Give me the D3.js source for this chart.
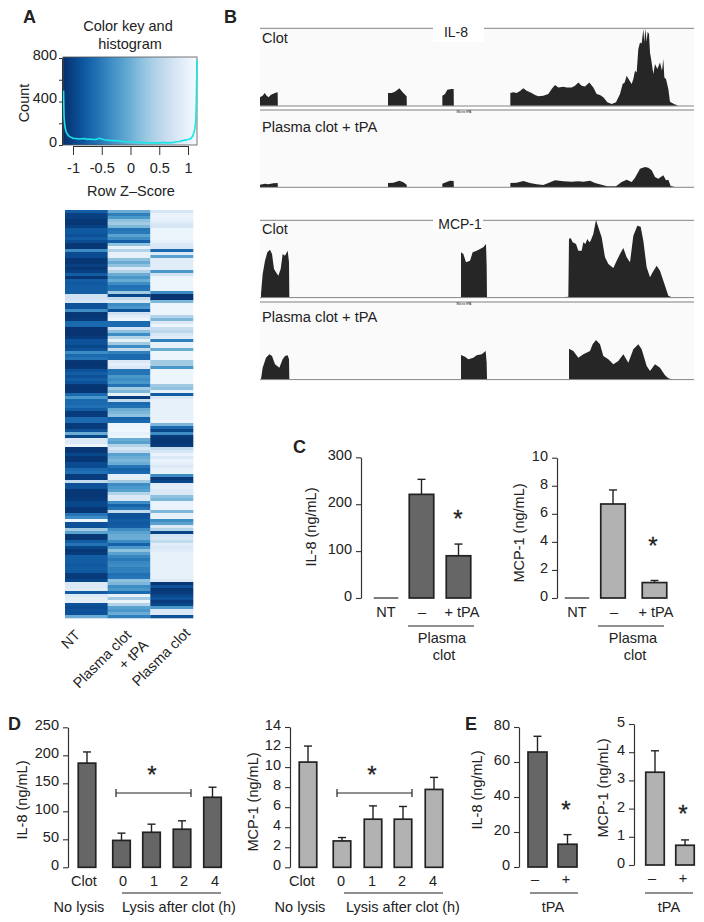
<!DOCTYPE html>
<html><head><meta charset="utf-8">
<script src="https://cdn.jsdelivr.net/npm/d3@7"></script>
<style>
html,body{margin:0;padding:0;background:#fff}
svg{display:block}
text{font-family:"Liberation Sans",Arial,sans-serif;fill:#222}
</style></head><body><div id="chart"></div>
<script>
// ---------- Panel A data ----------
const heatColumns = ["NT", "Plasma clot + tPA", "Plasma clot"];
const heatNT = [
.8,.93,.93,.97,.97,.93,.82,.82,.85,.8,
.88,.97,.97,.6,.88,.88,.97,.97,.93,.97,
.93,.8,.97,.8,.82,.8,.8,.8,.15,.15,
.12,.85,.85,.6,.97,.97,.95,.75,.75,.98,
.98,.98,.95,.85,.85,.9,.85,.6,.75,.7,
.97,.98,.97,.85,.8,.85,.8,.85,.97,.98,
.97,.75,.55,.75,.75,.72,.8,.95,.95,.75,
.75,.95,.95,.85,.45,.9,.1,.1,.03,.97,
.97,.9,.97,.97,.88,.88,.75,.72,.95,.95,
.2,.85,.85,.97,.97,.97,.95,.9,.9,.97,
.97,.7,.6,.03,.85,.85,.3,.5,.97,.97,
.8,.7,.9,.97,.95,.8,.8,.8,.82,.8,
.82,.95,.95,.9,.1,.1,.08,.8,.1,.06,
.06,.85,.88,.85,.85,.45];
const heatTPA = [
.45,.65,.55,.35,.3,.4,.7,.68,.5,.6,
.8,.35,.05,.25,.05,.05,.35,.45,.35,.1,
.25,.45,.55,.45,.6,.72,.7,.3,.9,.2,
.1,.6,.55,.85,.15,.08,.03,.75,.75,.15,
.35,.6,.25,.05,.3,.6,.2,.65,.75,.75,
.1,.06,.1,.7,.7,.55,.6,.55,.7,.3,
.4,.05,.95,.2,.75,.72,.45,.4,.35,.78,
.75,.03,.03,.02,.05,.03,.45,.5,.25,.12,
.2,.5,.45,.4,.45,.7,.78,.75,.07,.07,
.3,.6,.55,.5,.25,.1,.1,.6,.78,.7,
.2,.85,.85,.8,.82,.8,.6,.5,.45,.45,
.6,.78,.55,.35,.5,.62,.68,.62,.6,.65,
.65,.72,.7,.35,.4,.6,.55,.75,.05,.3,
.03,.25,.5,.55,.45,.65];
const heatClot = [
.12,.04,.04,.06,.1,.12,.03,.03,.03,.03,
.05,.1,.12,.75,.1,.5,.08,.08,.08,.08,
.55,.15,.03,.03,.03,.03,.03,.6,.98,.98,
.4,.03,.03,.03,.03,.25,.4,.1,.03,.18,
.22,.12,.08,.65,.05,.05,.45,.03,.03,.03,
.3,.3,.55,.03,.03,.03,.03,.03,.3,.35,
.05,.8,.1,.05,.05,.05,.05,.05,.05,.05,
.03,.4,.75,.9,.6,.95,.97,.97,.95,.2,
.12,.04,.1,.04,.06,.1,.05,.05,.6,.95,
.9,.08,.06,.1,.1,.35,.4,.04,.03,.04,
.4,.05,.05,.6,.5,.1,.25,.92,.15,.12,
.2,.08,.1,.08,.05,.05,.05,.05,.05,.05,
.05,.05,.05,.1,.97,.85,.97,.95,.9,.85,
.95,.9,.55,.1,.1,.85];
const histZ = [-1.165,-1.155,-1.14,-1.12,-1.08,-1.05,-1,-.95,-.9,-.85,-.8,-.75,-.7,-.65,-.6,-.55,-.5,-.45,-.4,-.35,-.3,-.25,-.2,-.15,-.1,-.05,0,.05,.1,.15,.2,.25,.3,.35,.4,.45,.5,.55,.6,.65,.7,.75,.8,.85,.9,.95,1,1.05,1.08,1.1,1.12,1.135,1.145,1.155];
const histCount = [500,250,170,120,85,75,62,60,55,58,60,52,55,50,50,62,55,48,45,42,40,42,38,35,30,30,28,28,28,24,22,22,20,20,20,20,20,22,22,20,22,24,30,32,40,45,50,60,80,110,150,220,400,780];
const histXTicks = [-1,-.5,0,.5,1];
const histYTicks = [0,200,400,600,800];
const histYLabels = {0:"0",400:"400",800:"800"};

// ---------- Panel B data ----------
const il8ClotPos = [30,30,38,44,50,56,62,68,75,83,83.5,414,414,425,435,448,458,466,470,470.5,577,577,585,592,605,611,611.5,781,781,790,800,810,820,830,845,855,865,880,895,905,915,925,940,950,965,975,985,995,1005,1018,1030,1040,1050,1060,1072,1085,1098,1110,1118,1124,1130,1137,1145,1150,1155,1160,1165,1170,1175,1180,1183,1186,1190,1193,1197,1200,1205,1210,1215,1222,1230,1236,1240,1243,1248,1255,1260,1272,1285];
const il8ClotCov = [0,25,30,38,30,25,32,35,38,40,0,0,38,38,42,52,40,32,28,0,0,30,35,48,50,50,0,0,38,40,38,44,52,45,38,32,28,30,35,50,62,55,57,55,55,60,70,60,58,70,55,35,32,25,10,5,10,35,65,70,90,78,65,80,105,100,170,190,187,230,190,232,192,222,215,160,130,95,125,110,130,105,140,85,80,50,12,5,0];
const il8TpaPos = [30,30,45,55,70,83,83.5,414,414,430,448,460,470,470.5,577,577,590,600,611,611.5,781,781,800,820,840,860,880,895,915,940,965,985,1000,1020,1035,1060,1072,1085,1098,1115,1130,1145,1155,1170,1185,1195,1205,1215,1225,1240,1248,1255,1262,1275];
const il8TpaCov = [0,7,10,8,11,12,0,0,12,13,19,14,7,0,0,10,15,19,18,0,0,12,13,18,12,8,6,12,20,17,16,17,16,19,12,5,2,2,2,15,22,15,28,55,60,58,50,30,25,35,20,22,3,0];
const mcpClotPos = [33,33,38,45,52,60,66,72,78,85,92,98,105,113,117,118,633,633,640,648,660,668,680,690,700,708,710,711,935,955,957,962,968,978,985,995,1000,1006,1012,1018,1022,1030,1038,1045,1055,1065,1075,1090,1100,1110,1120,1130,1140,1150,1162,1172,1180,1190,1200,1208,1220,1230,1240,1250,1255,1265];
const mcpClotCov = [0,10,70,110,135,143,130,85,75,65,85,130,125,140,105,0,0,135,130,105,110,135,140,145,150,160,95,0,0,2,175,178,165,160,140,140,165,160,175,165,170,190,232,210,180,120,100,88,110,130,148,120,105,185,215,212,170,90,60,75,95,80,50,20,5,0];
const mcpTpaPos = [33,38,48,58,66,75,88,98,105,113,117,118,633,633,645,655,670,680,695,707,710,711,957,957,970,985,1000,1020,1028,1038,1050,1060,1075,1090,1105,1120,1135,1150,1165,1175,1190,1200,1215,1230,1245,1255,1265];
const mcpTpaCov = [0,35,65,75,70,45,35,60,70,72,60,0,0,73,68,60,65,72,75,85,50,0,0,92,85,65,75,85,105,118,105,70,60,45,55,75,50,90,105,90,40,25,45,35,12,3,0];

// ---------- Panels C, D, E data ----------
const cCats = ["NT","–","+ tPA"];
const cIL8 = [0,221,90];
const cIL8Err = [0,253,115];
const cMCP = [0,6.7,1.1];
const cMCPErr = [0,7.7,1.25];
const dCats = ["Clot","0","1","2","4"];
const dIL8 = [186,48,62.5,68,125];
const dIL8Err = [206,61,77,83,143];
const dMCP = [10.5,2.63,4.8,4.8,7.77];
const dMCPErr = [12.1,2.97,6.13,6.07,8.97];
const eCats = ["–","+"];
const eIL8 = [65.7,13];
const eIL8Err = [74.7,18.5];
const eMCP = [3.29,.7];
const eMCPErr = [4.05,.89];

// ---------- Drawing ----------
const svg = d3.select("#chart").append("svg").attr("width",704).attr("height",922);
const INK = "#222", AXIS = "#333", DARK = "#666", LIGHT = "#b2b2b2";

function label(s,x,y,size,opt={}){
  const t = svg.append("text").attr("x",x).attr("y",y).attr("font-size",size)
    .attr("text-anchor",opt.anchor||"middle").text(s);
  if(opt.bold) t.attr("font-weight","bold");
  if(opt.rotate!==undefined) t.attr("transform",`rotate(${opt.rotate} ${x} ${y})`);
  return t;
}
[["A",23,23],["B",224,23],["C",293,453],["D",8,730],["E",465,730]]
  .forEach(d=>label(d[0],d[1],d[2],18,{anchor:"start",bold:true}));

// ---- A: colour key + histogram
const hx = d3.scaleLinear().domain([-1,1]).range([73,188]);
const hy = d3.scaleLinear().domain([0,800]).range([145,58]);
const keyLeft = hx.invert(63), keyRight = hx.invert(197);
const colorOf = v => d3.interpolateBlues(v);
const heatColor = v => d3.interpolateBlues(Math.pow(v,0.85));
const keyScale = d3.scaleLinear().domain([keyLeft,keyRight]).range([1,0]);
d3.range(63,197).forEach(px=>{
  svg.append("rect").attr("x",px).attr("y",57).attr("width",1.2).attr("height",88)
    .attr("fill",colorOf(keyScale(hx.invert(px))));
});
svg.append("rect").attr("x",63).attr("y",57).attr("width",134).attr("height",88)
  .attr("fill","none").attr("stroke","#555").attr("stroke-width",.8);
svg.append("path").attr("fill","none").attr("stroke","#16e6e6").attr("stroke-width",1.6)
  .attr("d",d3.line().x(d=>hx(d[0])).y(d=>hy(d[1])).curve(d3.curveLinear)(histZ.map((z,i)=>[z,histCount[i]])));
const hAxB = svg.append("g").attr("transform","translate(0,146)")
  .call(d3.axisBottom(hx).tickValues(histXTicks).tickSize(9).tickPadding(8).tickFormat(d=>String(d)));
hAxB.selectAll("text").attr("font-size",14.5).attr("font-family",null);
hAxB.selectAll("line").attr("stroke",AXIS);hAxB.select(".domain").attr("stroke",AXIS);
const hAxL = svg.append("g").attr("transform","translate(62,0)")
  .call(d3.axisLeft(hy).tickValues(histYTicks).tickSize(3).tickPadding(2).tickFormat(d=>histYLabels[d]||""));
hAxL.selectAll("text").attr("font-size",14.5).attr("font-family",null).attr("dy","0.1em");
hAxL.selectAll("line").attr("stroke",AXIS);hAxL.select(".domain").attr("stroke",AXIS);
label("Color key and",128,31,14.5);
label("histogram",130,49,14.5);
label("Count",29,103,14.5,{rotate:-90});
label("Row Z–Score",131,196,14.5);

// ---- A: heatmap
const heatX = d3.scaleBand().domain(heatColumns).range([65,193]);
const heatY = d3.scaleBand().domain(d3.range(heatNT.length)).range([210,618]);
[heatNT,heatTPA,heatClot].forEach((col,c)=>{
  svg.append("g").selectAll("rect").data(col).join("rect")
    .attr("x",heatX(heatColumns[c])).attr("width",heatX.bandwidth()+.3)
    .attr("y",(d,i)=>heatY(i)).attr("height",heatY.bandwidth()+.3)
    .attr("fill",d=>heatColor(d));
});
label("NT",81,636,14.5,{anchor:"end",rotate:-45});
label("Plasma clot",132,636,14.5,{anchor:"end",rotate:-45});
label("+ tPA",149,646,14.5,{anchor:"end",rotate:-45});
label("Plasma clot",191,634,14.5,{anchor:"end",rotate:-45});

// ---- B: coverage tracks
const trackX = d3.scaleLinear().domain([30,1332]).range([260,694]);
function track(pos,cov,baseY,topY){
  svg.append("rect").attr("x",260).attr("y",topY).attr("width",434).attr("height",baseY-topY).attr("fill","#fafafa");
  const y = d3.scaleLinear().domain([0,232]).range([baseY,baseY-77.3]);
  svg.append("path").attr("fill","#262626")
    .attr("d",d3.area().x(d=>trackX(d[0])).y0(baseY).y1(d=>y(d[1]))(pos.map((p,i)=>[p,cov[i]])));
  svg.append("line").attr("x1",260).attr("x2",694).attr("y1",baseY+.3).attr("y2",baseY+.3)
    .attr("stroke","#777").attr("stroke-width",.9);
}
track(il8ClotPos,il8ClotCov,105.7,28.3);
track(il8TpaPos,il8TpaCov,187,111);
track(mcpClotPos,mcpClotCov,297.3,220.3);
track(mcpTpaPos,mcpTpaCov,379.3,303);
[28.3,220.3].forEach(y=>svg.append("line").attr("x1",260).attr("x2",694).attr("y1",y).attr("y2",y).attr("stroke","#777").attr("stroke-width",.9));
[110,302].forEach(y=>svg.append("line").attr("x1",260).attr("x2",694).attr("y1",y).attr("y2",y).attr("stroke","#bdbdbd").attr("stroke-width",1.8));
svg.append("rect").attr("x",433).attr("y",26).attr("width",51).attr("height",16).attr("fill","#fff");
svg.append("rect").attr("x",433).attr("y",216).attr("width",50).attr("height",16).attr("fill","#fff");
label("IL-8",456,37,14);
label("MCP-1",460,229,14);
label("Clot",262,43,14.5,{anchor:"start"});
label("Plasma clot + tPA",262,132,14.7,{anchor:"start"});
label("Clot",262,234,14.5,{anchor:"start"});
label("Plasma clot + tPA",262,322,14.7,{anchor:"start"});
label("Micro tPA",464,113,3.5);
label("Micro tPA",464,305,3.5);

// ---- C, D, E: bar charts
function barChart(o){
  const y = d3.scaleLinear().domain([0,o.max]).range([o.y0,o.yTop]);
  const x = d3.scaleOrdinal().domain(o.cats).range(o.centers);
  const lx = d3.scaleOrdinal().domain(o.cats).range(o.labelCenters);
  const ax = svg.append("g").attr("transform",`translate(${o.axisX},0)`)
    .call(d3.axisLeft(y).tickValues(d3.range(0,o.max+1e-9,o.step)).tickSize(5).tickPadding(o.pad||4).tickSizeOuter(0).tickFormat(d=>String(d)));
  ax.selectAll("text").attr("font-size",14.5).attr("font-family",null).attr("dy","0.17em");
  ax.selectAll("line").attr("stroke",AXIS).attr("stroke-width",1.1);
  ax.select(".domain").attr("stroke",AXIS).attr("stroke-width",1.2);
  o.cats.forEach((c,i)=>{
    const v=o.values[i], e=o.errs[i], cx=x(c), w=o.width;
    if(v===0){
      svg.append("line").attr("x1",cx-w/2).attr("x2",cx+w/2).attr("y1",y(0)).attr("y2",y(0))
        .attr("stroke",INK).attr("stroke-width",1.2);
    } else {
      svg.append("line").attr("x1",cx).attr("x2",cx).attr("y1",y(v)).attr("y2",y(e)).attr("stroke",INK).attr("stroke-width",1.4);
      svg.append("line").attr("x1",cx-4).attr("x2",cx+4).attr("y1",y(e)).attr("y2",y(e)).attr("stroke",INK).attr("stroke-width",1.4);
      svg.append("rect").attr("x",cx-w/2).attr("width",w).attr("y",y(v)).attr("height",y(0)-y(v))
        .attr("fill",o.fill).attr("stroke",INK).attr("stroke-width",1.7);
    }
    label(c,lx(c),o.labelY,14.5);
  });
  label(o.ylabel,o.ylabelX,o.ylabelY,14.5,{rotate:-90});
  o.stars.forEach(s=>label("*",s[0],s[1]+1,24).attr("stroke","#222").attr("stroke-width",.3));
  o.notes.forEach(n=>{
    if(n.line) svg.append("line").attr("x1",n.line[0]).attr("x2",n.line[1]).attr("y1",n.y).attr("y2",n.y).attr("stroke",INK).attr("stroke-width",1.1);
    n.texts.forEach(t=>label(t[0],t[1],t[2],14.5));
  });
  if(o.bracket){
    const b=o.bracket;
    svg.append("path").attr("fill","none").attr("stroke",INK).attr("stroke-width",1.2)
      .attr("d",`M${b[0]},${b[2]-4}V${b[2]+4}M${b[0]},${b[2]}H${b[1]}M${b[1]},${b[2]-4}V${b[2]+4}`);
  }
}
barChart({cats:cCats,values:cIL8,errs:cIL8Err,max:300,step:100,y0:598,yTop:457.3,axisX:361,
  centers:[386,421.5,458.5],labelCenters:[386,422,462],width:24.5,labelY:617,fill:DARK,
  ylabel:"IL-8 (ng/mL)",ylabelX:316,ylabelY:527,stars:[[458,526]],bracket:null,
  notes:[{line:[408,474],y:626,texts:[["Plasma",442,643],["clot",444,660]]}]});
barChart({cats:cCats,values:cMCP,errs:cMCPErr,max:10,step:2,y0:598,yTop:457.7,axisX:557,
  centers:[577,613,654.5],labelCenters:[577,614,656],width:24.5,labelY:617,fill:LIGHT,
  ylabel:"MCP-1 (ng/mL)",ylabelX:524,ylabelY:533,stars:[[653,553]],bracket:null,
  notes:[{line:[598,664],y:626,texts:[["Plasma",633,643],["clot",635,660]]}]});
barChart({cats:dCats,values:dIL8,errs:dIL8Err,max:250,step:50,y0:867.3,yTop:727.3,axisX:68,
  centers:[87,121.5,151.5,182,212.5],labelCenters:[84,123,154,184,215],width:17.5,labelY:886,fill:DARK,
  ylabel:"IL-8 (ng/mL)",ylabelX:27,ylabelY:800,stars:[[152,782]],bracket:[116,191,793],
  notes:[{line:[122,221],y:893,texts:[["No lysis",79,912],["Lysis after clot (h)",179,912]]}]});
barChart({cats:dCats,values:dMCP,errs:dMCPErr,max:14,step:2,y0:867.3,yTop:727,axisX:290,
  centers:[308,342,373,403,434],labelCenters:[302,341,372,402,433],width:17.5,labelY:886,fill:LIGHT,
  ylabel:"MCP-1 (ng/mL)",ylabelX:258,ylabelY:802,stars:[[372,782]],bracket:[337,412,793],
  notes:[{line:[344,443],y:893,texts:[["No lysis",300,912],["Lysis after clot (h)",403,912]]}]});
barChart({cats:eCats,values:eIL8,errs:eIL8Err,max:80,step:20,y0:867,yTop:727,axisX:519,
  centers:[537.5,567.5],labelCenters:[535,566],width:19,labelY:884,fill:DARK,
  ylabel:"IL-8 (ng/mL)",ylabelX:482,ylabelY:790,stars:[[566,817]],bracket:null,
  notes:[{line:[530,578],y:893,texts:[["tPA",553,912]]}]});
barChart({cats:eCats,values:eMCP,errs:eMCPErr,max:5,step:1,y0:865,yTop:724,axisX:634,
  centers:[655,685],labelCenters:[652,683],width:18.5,labelY:883,fill:LIGHT,
  ylabel:"MCP-1 (ng/mL)",ylabelX:608,ylabelY:788,stars:[[683,821]],bracket:null,
  notes:[{line:[645,693],y:893,texts:[["tPA",669,912]]}]});
</script></body></html>
